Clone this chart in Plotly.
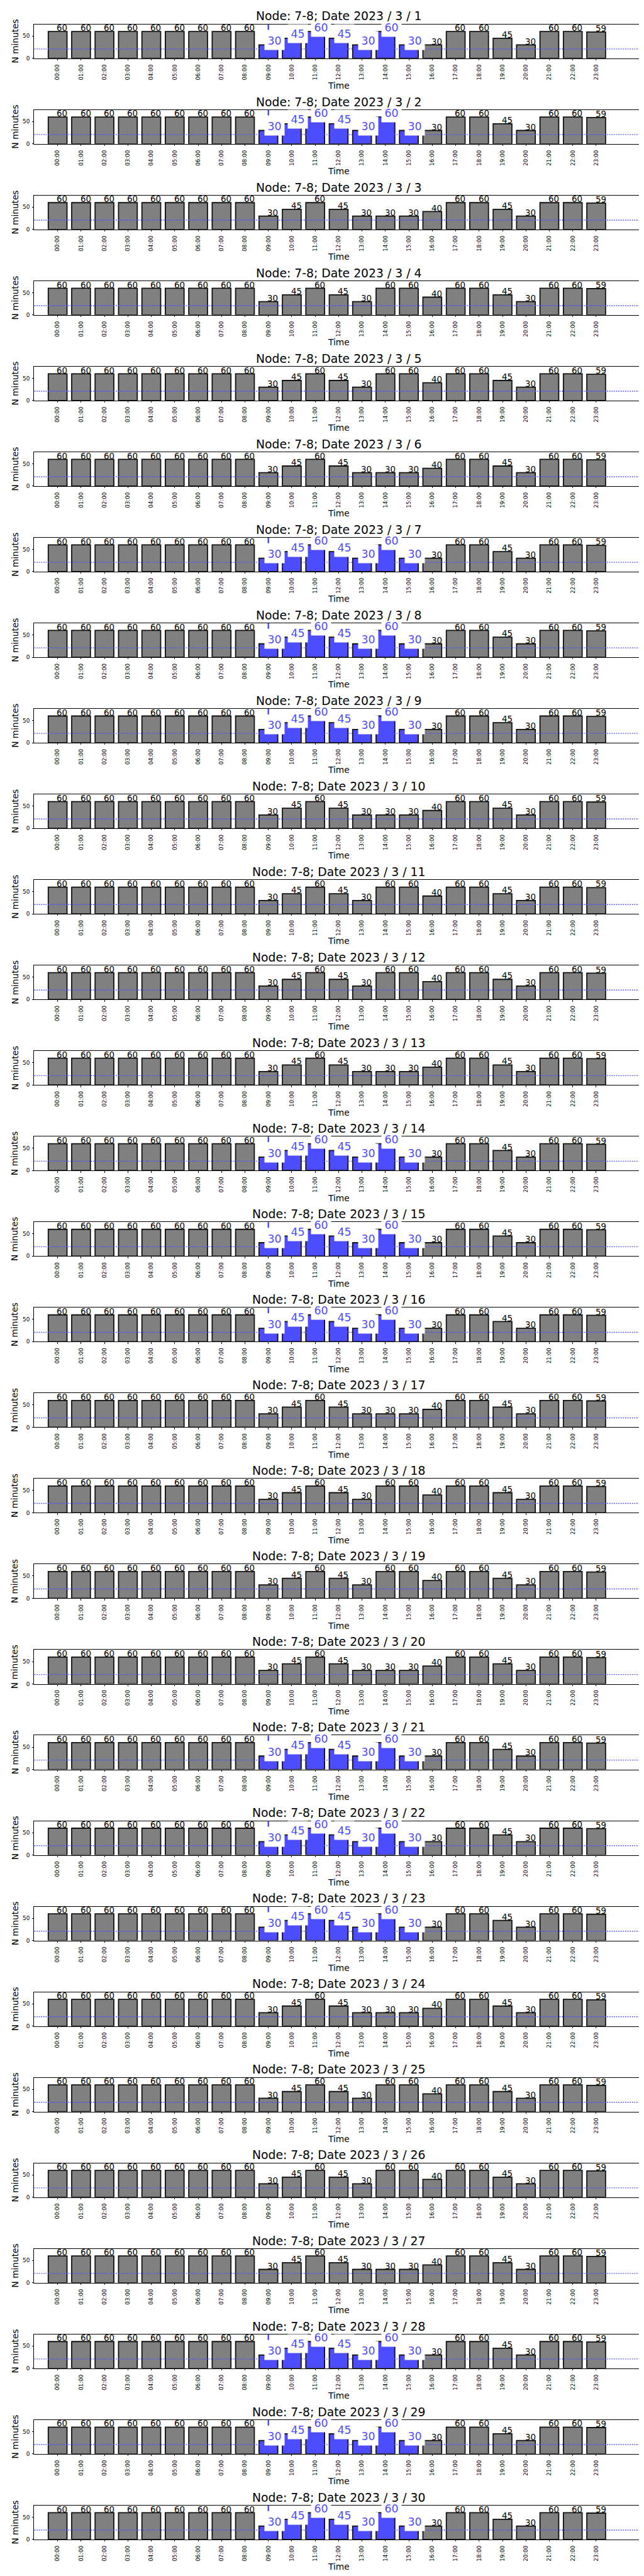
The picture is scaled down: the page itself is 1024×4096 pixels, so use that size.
import plotly.graph_objects as go

# ---------------- data ----------------
HOUR_LABELS = ["00:00", "01:00", "02:00", "03:00", "04:00", "05:00", "06:00", "07:00",
               "08:00", "09:00", "10:00", "11:00", "12:00", "13:00", "14:00", "15:00",
               "16:00", "17:00", "18:00", "19:00", "20:00", "21:00", "22:00", "23:00"]

# minutes per hour, three daily profiles seen in the chart
PROFILE_TUE_THU = [60, 60, 60, 60, 60, 60, 60, 60, 60, 30, 45, 60, 45, 30, 60, 30,
                   30, 60, 60, 45, 30, 60, 60, 59]
PROFILE_MON_FRI = [60, 60, 60, 60, 60, 60, 60, 60, 60, 30, 45, 60, 45, 30, 30, 30,
                   40, 60, 60, 45, 30, 60, 60, 59]
PROFILE_WEEKEND = [60, 60, 60, 60, 60, 60, 60, 60, 60, 30, 45, 60, 45, 30, 60, 60,
                   40, 60, 60, 45, 30, 60, 60, 59]

DAYS = [1, 2, 3, 4, 5, 6, 7, 8, 9, 10, 11, 12, 13, 14, 15, 16, 17, 18, 19, 20,
        21, 22, 23, 24, 25, 26, 27, 28, 29, 30]
DAY_PROFILE = ["tt", "tt", "mf", "we", "we", "mf", "tt", "tt", "tt", "mf",
               "we", "we", "mf", "tt", "tt", "tt", "mf", "we", "we", "mf",
               "tt", "tt", "tt", "mf", "we", "we", "mf", "tt", "tt", "tt"]
PROFILES = {"tt": PROFILE_TUE_THU, "mf": PROFILE_MON_FRI, "we": PROFILE_WEEKEND}

HIGHLIGHT_DAYS = [1, 2, 7, 8, 9, 14, 15, 16, 21, 22, 23, 28, 29, 30]
HIGHLIGHT_HOURS = [9, 10, 11, 12, 13, 14, 15]
THRESHOLD = 21
Y_TICKS = [0, 50]
Y_MAX = 76.2
NODE = "7-8"
YEAR, MONTH = 2023, 3

# ---------------- styling / layout ----------------
W, H = 1024, 4096
REF_W, REF_H = 1500.0, 6000.0
S = W / REF_W
FONT = "DejaVu Sans"
GRAY = "#808080"
BLUE = "#4d4dff"
EDGE = "#111111"

AX_LEFT, AX_RIGHT = 68.0, 1486.0
AX_TOP0, PITCH, AX_H = 45.0, 199.52, 79.3

fig = go.Figure()
layout = dict(width=W, height=H, margin=dict(l=0, r=0, t=0, b=0, pad=0),
              paper_bgcolor="white", plot_bgcolor="white", showlegend=False,
              font=dict(family=FONT, color="black"))
annotations = []
shapes = []

x_pos = list(range(len(HOUR_LABELS)))

for k, day in enumerate(DAYS):
    sfx = "" if k == 0 else str(k + 1)
    xa, ya = "x" + sfx, "y" + sfx
    top = AX_TOP0 + k * PITCH
    bot = top + AX_H
    values = PROFILES[DAY_PROFILE[k]]
    hl = day in HIGHLIGHT_DAYS
    colors = [BLUE if (hl and h in HIGHLIGHT_HOURS) else GRAY for h in x_pos]

    fig.add_trace(go.Bar(x=x_pos, y=values, width=0.8, xaxis=xa, yaxis=ya,
                         marker=dict(color=colors, line=dict(color=EDGE, width=1.8)),
                         hoverinfo="skip"))

    layout["xaxis" + sfx] = dict(
        domain=[AX_LEFT / REF_W, AX_RIGHT / REF_W], range=[-1, 25], anchor=ya,
        tickmode="array", tickvals=x_pos, ticktext=HOUR_LABELS, tickangle=-90,
        ticks="outside", ticklen=2.4, tickwidth=0.8, tickcolor="black",
        showline=True, linecolor="black", linewidth=0.9, mirror=True,
        showgrid=False, zeroline=False, fixedrange=True,
        tickfont=dict(family=FONT, size=8.7, color="black"), ticklabelstandoff=3)
    layout["yaxis" + sfx] = dict(
        domain=[1 - bot / REF_H, 1 - top / REF_H], range=[0, Y_MAX], anchor=xa,
        tickmode="array", tickvals=Y_TICKS, ticks="outside", ticklen=2.4,
        tickwidth=0.8, tickcolor="black", showline=True, linecolor="black",
        linewidth=0.9, mirror=True, showgrid=False, zeroline=False, fixedrange=True,
        tickfont=dict(family=FONT, size=8.9, color="black"), ticklabelstandoff=2)

    # dotted threshold line (above bars)
    shapes.append(dict(type="line", xref=xa + " domain", x0=0, x1=1, yref=ya,
                       y0=THRESHOLD, y1=THRESHOLD, layer="above",
                       line=dict(color=BLUE, width=1.4, dash="1.8px,1.8px")))
    if hl:
        shapes.append(dict(type="line", xref=xa, x0=HIGHLIGHT_HOURS[0], x1=HIGHLIGHT_HOURS[0],
                           yref=ya + " domain", y0=1, y1=0, layer="above",
                           line=dict(color=BLUE, width=2.5, dash="8.9px,3.4px")))

    # value labels
    for h, v in zip(x_pos, values):
        if hl and h in HIGHLIGHT_HOURS:
            annotations.append(dict(
                x=h, y=v, xref=xa, yref=ya, text=str(v), showarrow=False,
                xanchor="left", yanchor="bottom", xshift=-7.0, yshift=-8.6,
                bgcolor="white", borderpad=4.5,
                font=dict(family=FONT, size=17.4, color=BLUE)))
        else:
            annotations.append(dict(
                x=h, y=v, xref=xa, yref=ya, text=str(v), showarrow=False,
                xanchor="left", yanchor="bottom", xshift=-2.3, yshift=-3.2,
                borderpad=0, font=dict(family=FONT, size=13.4, color="black")))

    # title
    annotations.append(dict(
        x=0.5, y=1, xref=xa + " domain", yref=ya + " domain",
        text=f"Node: {NODE}; Date {YEAR} / {MONTH} / {day}", showarrow=False,
        xanchor="center", yanchor="bottom", yshift=0.2,
        font=dict(family=FONT, size=18.8, color="black")))
    # x label
    annotations.append(dict(
        x=0.5, y=0, xref=xa + " domain", yref=ya + " domain", text="Time",
        showarrow=False, xanchor="center", yanchor="middle", yshift=-43.3,
        font=dict(family=FONT, size=13.8, color="black")))
    # y label
    annotations.append(dict(
        x=23.0 / REF_W, y=0.5, xref="paper", yref=ya + " domain", text="N minutes",
        showarrow=False, xanchor="center", yanchor="middle", textangle=-90,
        font=dict(family=FONT, size=13.7, color="black")))

layout["annotations"] = annotations
layout["shapes"] = shapes
fig.update_layout(**layout)
fig.write_html("out.html")
